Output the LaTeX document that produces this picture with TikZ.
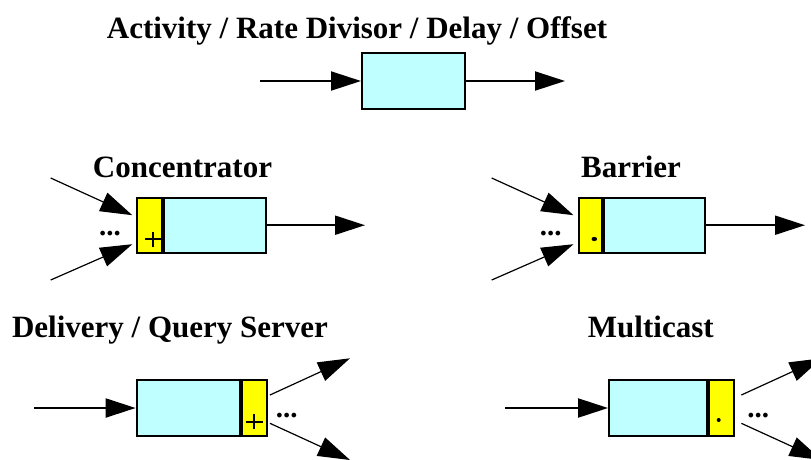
\documentclass[tikz,border=0pt]{standalone}
\usepackage{fontspec}
\setmainfont{Liberation Serif}
\usetikzlibrary{arrows.meta}
\definecolor{boxcyan}{HTML}{C0FFFF}
\definecolor{portyellow}{HTML}{FFFF00}
\tikzset{
  title/.style={font=\bfseries\fontsize{31}{36}\selectfont, anchor=base, inner sep=0},
  body/.style={draw, line width=2pt, fill=boxcyan, inner sep=0, minimum height=55pt},
  port/.style={draw, line width=2pt, fill=portyellow, inner sep=0, minimum height=55pt},
  flow/.style={line width=2pt, -{Triangle[length=30pt,width=19pt]}},
  fan/.style={line width=1.2pt, -{Triangle[length=32pt,width=20pt]}},
  more/.style={font=\bfseries\fontsize{29}{30}\selectfont, inner sep=0},
  plusmark/.style={line width=1.7pt}
}
\begin{document}
\begin{tikzpicture}[x=1pt,y=-1pt]
\useasboundingbox (0,0) rectangle (811,459);
\clip (0,0) rectangle (811,459);

% Activity / Rate Divisor / Delay / Offset
\node[title] (t0) at (357,38) {Activity / Rate Divisor / Delay / Offset};
\node[body, minimum width=103pt, minimum height=56pt] (a) at (413.5,81) {};
\coordinate (ain) at (260,81);
\coordinate (aout) at (565,81);
\draw[flow] (ain) -- (a.west);
\draw[flow] (a.east) -- (aout);

% Concentrator
\node[title] (t1) at (182.5,177.7) {Concentrator};
\node[port, minimum width=25pt] (cp) at (149.8,225.2) {};
\node[body, minimum width=102pt, anchor=west] (cb) at (cp.east) {};
\draw[plusmark] (145,239.3) -- (161,239.3) (153,231.8) -- (153,246.8);
\coordinate (cin1) at (50.7,178);
\coordinate (cin2) at (50.7,280);
\coordinate (cout) at (365,225.2);
\draw[fan] (cin1) -- ([xshift=-4pt,yshift=10pt]cp.west);
\draw[fan] (cin2) -- ([xshift=-4pt,yshift=-19pt]cp.west);
\draw[flow] (cb.east) -- (cout);
\node[more] (cdots) at (110,234) {...};

% Barrier
\node[title] (t2) at (631,177.7) {Barrier};
\node[port, minimum width=23pt] (bp) at (590.5,225.2) {};
\node[body, minimum width=101.3pt, anchor=west] (bb) at (bp.east) {};
\fill (594.3,239) ellipse (2.8pt and 2.1pt);
\coordinate (bin1) at (491.7,178);
\coordinate (bin2) at (491.7,280);
\coordinate (bout) at (805,225.2);
\draw[fan] (bin1) -- ([xshift=-4.5pt,yshift=10pt]bp.west);
\draw[fan] (bin2) -- ([xshift=-4.5pt,yshift=-19pt]bp.west);
\draw[flow] (bb.east) -- (bout);
\node[more] (bdots) at (550.7,234) {...};

% Delivery / Query Server
\node[title] (t3) at (170,337.7) {Delivery / Query Server};
\node[body, minimum width=103.3pt, minimum height=56pt] (db) at (188.3,408) {};
\node[port, minimum width=25pt, minimum height=56pt, anchor=west] (dp) at (db.east) {};
\draw[plusmark] (246,421.7) -- (262.5,421.7) (254.2,414) -- (254.2,429.3);
\coordinate (din) at (34,408);
\coordinate (dout1) at (350,358.3);
\coordinate (dout2) at (350,460);
\draw[flow] (din) -- (db.west);
\draw[fan] ([xshift=2pt,yshift=13pt]dp.east) -- (dout1);
\draw[fan] ([xshift=2pt,yshift=-15.3pt]dp.east) -- (dout2);
\node[more] (ddots) at (286.7,416) {...};

% Multicast
\node[title] (t4) at (650.8,337.7) {Multicast};
\node[body, minimum width=98.3pt, minimum height=56pt] (mb) at (658.2,408) {};
\node[port, minimum width=24.4pt, minimum height=56pt, anchor=west] (mp) at (mb.east) {};
\fill (718.7,420) circle (2pt);
\coordinate (min) at (505,408);
\coordinate (mout1) at (821.6,358.3);
\coordinate (mout2) at (821.6,460);
\draw[flow] (min) -- (mb.west);
\draw[fan] ([xshift=6.6pt,yshift=13pt]mp.east) -- (mout1);
\draw[fan] ([xshift=6.6pt,yshift=-15.3pt]mp.east) -- (mout2);
\node[more] (mdots) at (758.3,416) {...};
\end{tikzpicture}
\end{document}
